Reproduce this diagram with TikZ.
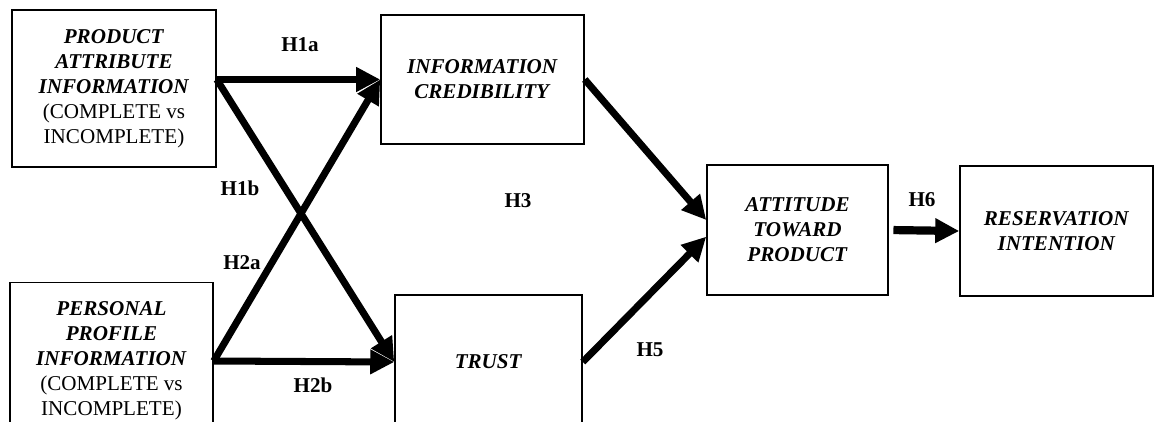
\documentclass[tikz,border=0pt]{standalone}
\usepackage{fontspec}
\setmainfont{Liberation Serif}
\usetikzlibrary{arrows.meta}

\begin{document}
\begin{tikzpicture}[x=0.03cm,y=-0.03cm,
  font=\fontsize{18}{21.3}\selectfont,>={Triangle[length=0.72cm,width=0.7cm]},
  box/.style={draw,line width=1.3pt,align=center,inner sep=0pt},
  link/.style={->,line width=6pt},
  hyp/.style={font=\fontsize{18}{21.3}\selectfont\bfseries}]
\clip (0,0) rectangle (1154,421);
% independent variables (left)
\node[box,minimum width=6.12cm,minimum height=4.71cm] (pa) at (114,88.5)
  {\textbf{\textit{PRODUCT}}\\\textbf{\textit{ATTRIBUTE}}\\\textbf{\textit{INFORMATION}}\\(COMPLETE vs\\INCOMPLETE)};
\node[box,minimum width=6.09cm,minimum height=4.71cm] (pp) at (111.5,361)
  {\textbf{\textit{PERSONAL}}\\\textbf{\textit{PROFILE}}\\\textbf{\textit{INFORMATION}}\\(COMPLETE vs\\INCOMPLETE)};
% mediators
\node[box,minimum width=6.09cm,minimum height=3.87cm] (ic) at (482.5,79.5)
  {\textbf{\textit{INFORMATION}}\\\textbf{\textit{CREDIBILITY}}};
\node[box,minimum width=5.61cm,minimum height=4.02cm] (tr) at (488.5,362)
  {\textbf{\textit{TRUST}}};
% outcomes
\node[box,minimum width=5.43cm,minimum height=3.9cm] (at) at (797.5,230)
  {\textbf{\textit{ATTITUDE}}\\\textbf{\textit{TOWARD}}\\\textbf{\textit{PRODUCT}}};
\node[box,minimum width=5.79cm,minimum height=3.9cm] (rs) at (1056.5,231)
  {\textbf{\textit{RESERVATION}}\\\textbf{\textit{INTENTION}}};
\coordinate (pa-out) at (pa.east |- ic.west);
% hypotheses
\draw[link] (pa-out) -- (ic.west);
\draw[link] (pa-out) -- (tr.west);
\draw[link] (pp.east) -- (ic.west);
\draw[link] (pp.east) -- (tr.west);
\draw[link] (ic.east) -- ([yshift=0.3cm]at.west);
\draw[link] (tr.east) -- ([yshift=-0.2cm]at.west);
\draw[link,line width=7pt,shorten <=4pt] (at.east) -- (rs.west);
\node[hyp] (h1a) at (300,45) {H1a};
\node[hyp] (h1b) at (240,188) {H1b};
\node[hyp] (h2a) at (242,263) {H2a};
\node[hyp] (h2b) at (313,385) {H2b};
\node[hyp] (h3) at (518,201) {H3};
\node[hyp] (h5) at (650,350) {H5};
\node[hyp] (h6) at (922,200) {H6};
\end{tikzpicture}
\end{document}
